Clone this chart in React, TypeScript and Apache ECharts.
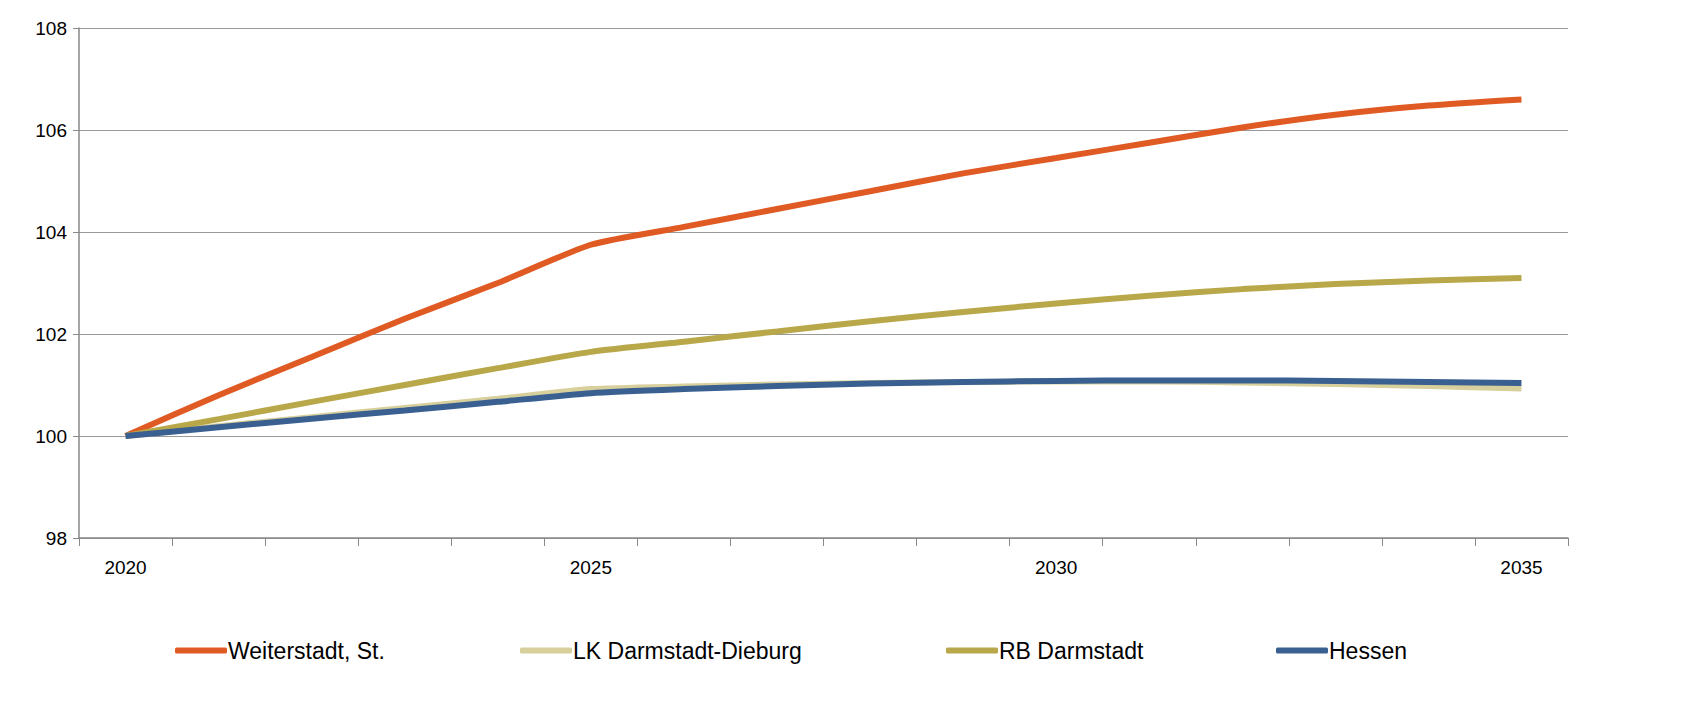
import React, { useEffect, useRef } from 'react';
import * as echarts from 'echarts';

const years = ['2020', '2021', '2022', '2023', '2024', '2025', '2026', '2027', '2028', '2029', '2030', '2031', '2032', '2033', '2034', '2035'];
const weiterstadt = [100, 100.8, 101.55, 102.3, 103.0, 103.75, 104.1, 104.45, 104.8, 105.15, 105.45, 105.75, 106.05, 106.3, 106.48, 106.6];
const lkDarmstadt = [100, 100.19, 100.37, 100.55, 100.73, 100.92, 100.97, 101.01, 101.04, 101.06, 101.07, 101.07, 101.05, 101.02, 100.98, 100.93];
const rbDarmstadt = [100, 100.33, 100.67, 101.0, 101.33, 101.65, 101.85, 102.05, 102.25, 102.43, 102.6, 102.75, 102.88, 102.98, 103.05, 103.1];
const hessen = [100, 100.17, 100.34, 100.5, 100.67, 100.84, 100.92, 100.98, 101.03, 101.06, 101.08, 101.09, 101.09, 101.08, 101.06, 101.04];

const names = ['Weiterstadt, St.', 'LK Darmstadt-Dieburg', 'RB Darmstadt', 'Hessen'];
const colors = ['#E05A24', '#D8D09C', '#B8A84A', '#3A6091'];
const legendLeft = [162, 507, 933, 1263];

export default function App() {
  const ref = useRef<HTMLDivElement>(null);
  useEffect(() => {
    if (!ref.current) return;
    const chart = echarts.init(ref.current, undefined, { renderer: 'svg' });
    const font = '"Liberation Sans", Arial, sans-serif';
    const series = [weiterstadt, lkDarmstadt, rbDarmstadt, hessen];
    chart.setOption({
      animation: false,
      textStyle: { fontFamily: font },
      grid: { left: 71, right: 127, top: 20, bottom: 175 },
      legend: names.map((n, i) => ({
        data: [n],
        left: legendLeft[i],
        top: 626,
        itemWidth: 52,
        itemHeight: 6,
        itemGap: 0,
        icon: 'roundRect',
        textStyle: { fontSize: 23, color: '#000', fontFamily: font, padding: [0, 0, 0, -4] },
      })),
      xAxis: {
        type: 'category',
        data: years,
        boundaryGap: true,
        axisLine: { lineStyle: { color: '#888', width: 1.5 } },
        axisTick: { show: true, interval: 0, length: 8, lineStyle: { color: '#888' } },
        axisLabel: { interval: 4, color: '#000', fontSize: 19, margin: 20, fontFamily: font },
      },
      yAxis: {
        type: 'value',
        min: 98,
        max: 108,
        interval: 2,
        axisLine: { show: true, lineStyle: { color: '#888', width: 1.5 } },
        axisTick: { show: true, length: 6, lineStyle: { color: '#888' } },
        splitLine: { lineStyle: { color: '#999', width: 1 } },
        axisLabel: { color: '#000', fontSize: 19, margin: 12, fontFamily: font },
      },
      series: series.map((d, i) => ({
        name: names[i],
        type: 'line',
        data: d,
        smooth: 0.2,
        showSymbol: false,
        lineStyle: { color: colors[i], width: 6 },
        itemStyle: { color: colors[i] },
      })),
    });
    return () => chart.dispose();
  }, []);
  return <div ref={ref} style={{ width: 1687, height: 705 }} />;
}
